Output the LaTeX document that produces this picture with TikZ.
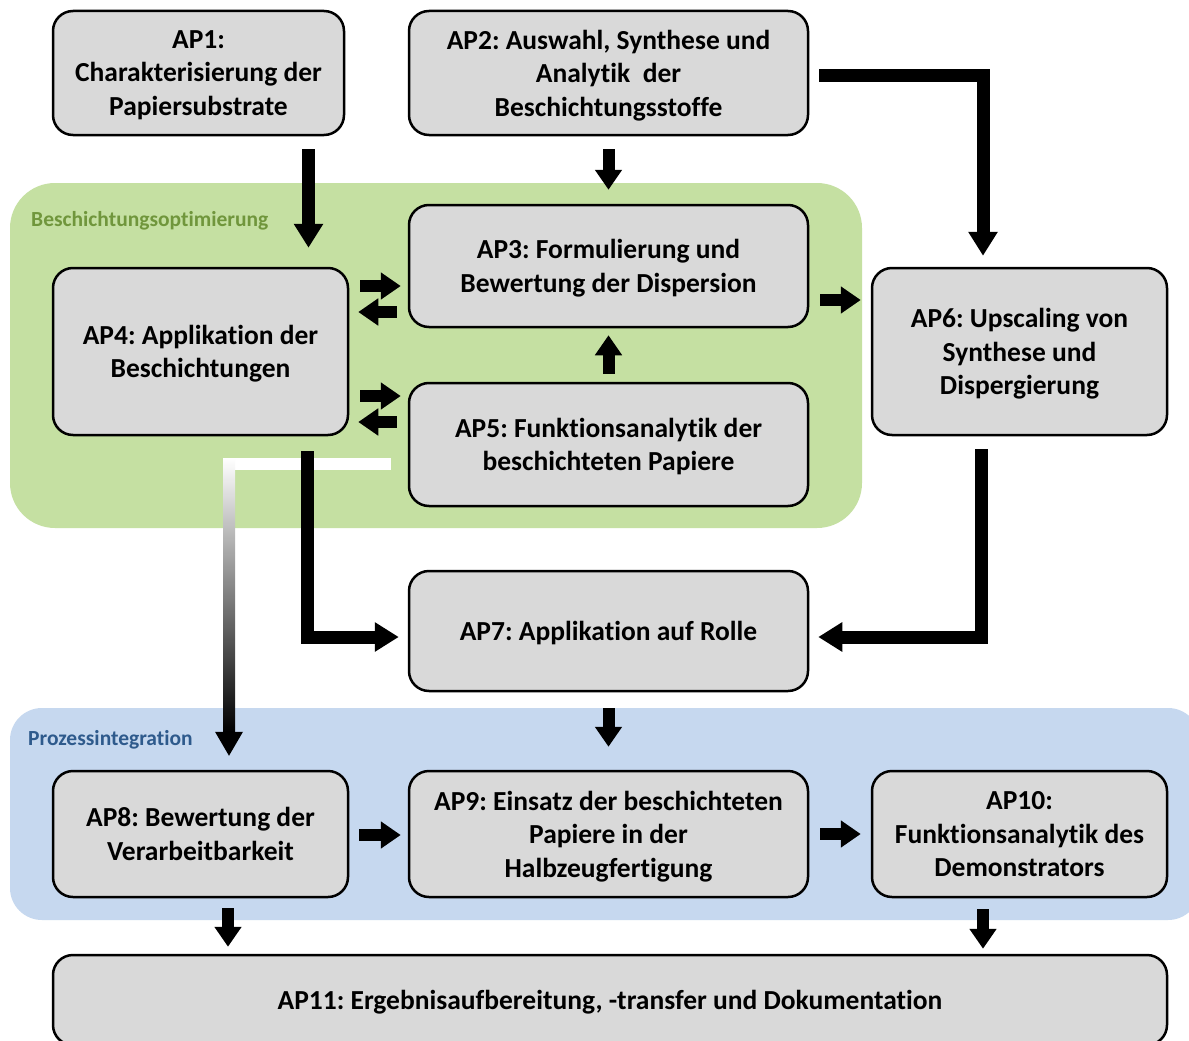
\documentclass[tikz,border=0pt]{standalone}
\usepackage{fontspec}
\setmainfont{Carlito}[Ligatures=NoCommon]
\frenchspacing
\usetikzlibrary{arrows.meta,calc}
\definecolor{boxfill}{HTML}{D9D9D9}
\definecolor{greenreg}{HTML}{C5E0A2}
\definecolor{greentxt}{HTML}{70963C}
\definecolor{bluereg}{HTML}{C6D8EF}
\definecolor{bluetxt}{HTML}{2E5A8C}
\tikzset{
  apbox/.style={draw=black, line width=2.5pt, fill=boxfill, rounded corners=20pt,
    align=center, font=\fontsize{27.5}{33.5}\selectfont\bfseries\frenchspacing, inner sep=0pt, text depth=0pt},
  blk/.style={draw=black, line width=13pt, line join=miter, -{Triangle[width=28pt,length=24pt]}},
  sblk/.style={draw=black, line width=12pt, -{Triangle[width=26pt,length=20pt]}},
  reglabel/.style={anchor=west, font=\fontsize{21.5}{24}\selectfont\bfseries, inner sep=0pt}
}
\begin{document}
\begin{tikzpicture}[x=1pt,y=-1pt]
\useasboundingbox (0,0) rectangle (1189,1041);
\clip (0,0) rectangle (1189,1041);
\fill[white] (0,0) rectangle (1189,1041);
% regions
\fill[greenreg, rounded corners=45pt] (10,183) rectangle (862,528);
\fill[bluereg, rounded corners=32pt] (10,708) rectangle (1200,920);
\node[reglabel, text=greentxt] (lg) at (31,221) {Beschichtungsoptimierung};
\node[reglabel, text=bluetxt] (lb) at (28,740) {Prozessintegration};
% boxes
\node[apbox, minimum width=291pt, minimum height=124pt] (ap1) at (198.5,73) {AP1:\\Charakterisierung der\\Papiersubstrate};
\node[apbox, minimum width=399pt, minimum height=124pt] (ap2) at (608.5,73) {AP2: Auswahl, Synthese und\\Analytik\ \ der\\Beschichtungsstoffe};
\node[apbox, minimum width=399pt, minimum height=122pt] (ap3) at (608.5,266) {AP3: Formulierung und\\Bewertung der Dispersion};
\node[apbox, minimum width=295pt, minimum height=167pt] (ap4) at (200.5,351.5) {AP4: Applikation der\\Beschichtungen};
\node[apbox, minimum width=399pt, minimum height=123pt] (ap5) at (608.5,444.5) {AP5: Funktionsanalytik der\\beschichteten Papiere};
\node[apbox, minimum width=295pt, minimum height=167pt] (ap6) at (1019.5,351.5) {AP6: Upscaling von\\Synthese und\\Dispergierung};
\node[apbox, minimum width=399pt, minimum height=120pt] (ap7) at (608.5,631) {AP7: Applikation auf Rolle};
\node[apbox, minimum width=295pt, minimum height=126pt] (ap8) at (200.5,834) {AP8: Bewertung der\\Verarbeitbarkeit};
\node[apbox, minimum width=399pt, minimum height=126pt] (ap9) at (608.5,834) {AP9: Einsatz der beschichteten\\Papiere in der\\Halbzeugfertigung};
\node[apbox, minimum width=295pt, minimum height=126pt] (ap10) at (1019.5,834) {AP10:\\Funktionsanalytik des\\Demonstrators};
\node[apbox, minimum width=1114pt, minimum height=90pt] (ap11) at (610,1000) {AP11: Ergebnisaufbereitung, -transfer und Dokumentation};
% gradient connector AP5 -> AP8
\coordinate (gs) at ([xshift=-17pt,yshift=-19.5pt]ap5.west);
\coordinate (ge) at ([xshift=28.5pt,yshift=14pt]ap8.north);
\coordinate (gc) at (gs -| ge);
\fill[white] ($(gs)+(0,-6)$) rectangle ($(gc)+(-6,6)$);
\shade[top color=white, bottom color=black] ($(gc)+(-6,-6)$) rectangle ($(ge)+(6,-24)$);
\fill[black] ($(ge)+(-14,-24)$) -- ($(ge)+(14,-24)$) -- (ge) -- cycle;
% connectors
\draw[blk] ([xshift=110pt,yshift=-13pt]ap1.south) -- ([xshift=108pt,yshift=19pt]ap4.north);
\draw[sblk] ([yshift=-13pt]ap2.south) -- ([yshift=14pt]ap3.north);
\draw[blk] ([xshift=10pt,yshift=-3pt]ap2.east) -| ([xshift=-36.5pt,yshift=11pt]ap6.north);
\draw[sblk] ([xshift=11pt,yshift=65.5pt]ap4.east) -- ([xshift=-7pt,yshift=-20pt]ap3.west);
\draw[sblk] ([xshift=-11pt,yshift=-46pt]ap3.west) -- ([xshift=9pt,yshift=39.5pt]ap4.east);
\draw[sblk] ([xshift=11pt,yshift=-44.5pt]ap4.east) -- ([xshift=-7pt,yshift=48.5pt]ap5.west);
\draw[sblk] ([xshift=-11pt,yshift=22.5pt]ap5.west) -- ([xshift=9pt,yshift=-70.5pt]ap4.east);
\draw[sblk] ([yshift=8pt]ap5.north) -- ([yshift=-7pt]ap3.south);
\draw[sblk] ([xshift=11pt,yshift=-34pt]ap3.east) -- ([xshift=-10pt,yshift=51.5pt]ap6.west);
\draw[blk] ([xshift=107pt,yshift=-15pt]ap4.south) |- ([xshift=-9pt,yshift=-6pt]ap7.west);
\draw[blk] ([xshift=-38pt,yshift=-13pt]ap6.south) |- ([xshift=9pt,yshift=-6pt]ap7.east);
\draw[sblk] ([yshift=-16pt]ap7.south) -- ([yshift=23pt]ap9.north);
\draw[sblk] ([xshift=10pt,yshift=-1pt]ap8.east) -- ([xshift=-7pt,yshift=-1pt]ap9.west);
\draw[sblk] ([xshift=11pt]ap9.east) -- ([xshift=-10pt]ap10.west);
\draw[sblk] ([xshift=27.5pt,yshift=-10pt]ap8.south) -- ([xshift=-382pt,yshift=7pt]ap11.north);
\draw[sblk] ([xshift=-36.5pt,yshift=-11pt]ap10.south) -- ([xshift=373pt,yshift=5pt]ap11.north);
\end{tikzpicture}
\end{document}
